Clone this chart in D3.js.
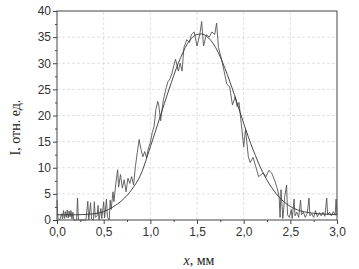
<!DOCTYPE html>
<head>
<meta charset="utf-8">
<title>D3</title>
<style>
  body { margin: 0; background: #fff; }
  .tick text { font-family: "Liberation Sans", Arial, sans-serif; font-size: 12px; fill: #333; }
  .grid line { stroke: #d8d8d8; stroke-dasharray: 3,2; stroke-width: 0.8px; }
  .title { font-family: "Liberation Serif", "Times New Roman", serif; fill: #222; }
</style>
</head>
<body>
<div id="chart"></div>
<script src="https://cdn.jsdelivr.net/npm/d3@7"></script>
<script>

// measured intensity (noisy)
var xs = [0.00,0.01,0.03,0.05,0.06,0.07,0.08,0.09,0.10,0.11,0.12,0.13,0.14,0.15,0.16,0.17,0.18,0.21,0.22,0.23,
  0.31,0.33,0.34,0.36,0.37,0.39,0.40,0.41,0.43,0.44,0.45,0.47,0.48,0.50,0.51,0.53,0.54,0.56,0.57,0.58,
  0.60,0.61,0.63,0.65,0.66,0.68,0.70,0.72,0.74,0.76,0.78,0.80,0.82,0.84,0.86,0.88,0.90,0.92,0.94,0.96,
  0.98,1.00,1.02,1.04,1.06,1.08,1.09,1.11,1.14,1.17,1.19,1.21,1.23,1.27,1.30,1.32,1.34,1.36,1.39,1.42,
  1.44,1.47,1.50,1.53,1.55,1.57,1.60,1.63,1.66,1.69,1.71,1.73,1.76,1.79,1.82,1.85,1.88,1.91,1.93,1.95,
  1.97,2.00,2.02,2.05,2.07,2.10,2.13,2.16,2.21,2.24,2.27,2.30,2.33,2.36,2.38,2.39,2.40,2.42,2.44,2.46,
  2.47,2.49,2.51,2.52,2.54,2.55,2.57,2.59,2.61,2.62,2.64,2.66,2.68,2.70,2.71,2.73,2.75,2.77,2.79,2.81,
  2.83,2.85,2.87,2.89,2.90,2.92,2.94,2.96,2.98,2.99,3.00];
var ys = [3.8,0.3,0,1.2,0.2,1.8,0.3,1.6,0.5,1.9,0.4,1.7,0.6,1.8,0.2,1.5,0,0,4.2,0,
  0,3.6,0,3.3,0.2,0,3.5,0.5,0.8,2.8,0,2.2,0.3,3.5,0.4,4.0,0.6,0,3.8,2.0,
  5.4,3.5,7.0,9.6,6.3,8.7,6.1,7.7,5.4,8.0,7.0,8.3,6.7,10.2,12.9,15.4,13.5,12.1,13.1,11.9,
  13.8,14.8,16.7,17.9,21.2,22.7,22.0,19.0,23.0,25.3,26.5,27.0,28.0,30.8,28.5,30.0,28.5,33.0,34.5,34.0,
  35.5,36.0,33.3,35.5,38.0,33.3,35.5,35.0,36.0,35.5,37.7,33.0,31.0,28.5,26.0,25.5,22.0,23.6,21.7,22.5,
  19.2,14.0,17.3,12.1,11.0,12.0,10.2,8.3,9.0,8.3,9.5,9.0,7.7,6.0,4.4,0.5,5.8,0.3,4.5,6.7,
  1.0,0.5,2.0,0.3,4.0,0.8,1.5,0.5,3.8,1.0,1.5,0.5,1.2,4.2,0.8,1.2,0.5,1.8,0.6,1.4,
  0.8,1.5,0.7,4.2,1.0,1.5,0.8,1.6,1.0,4.0,1.0];

// fitted curve
var fitX = [0.0,0.2,0.4,0.5,0.6,0.7,0.8,0.9,1.0,1.1,1.2,1.3,1.4,1.5,1.55,1.6,1.7,1.8,1.9,2.0,2.1,2.2,2.3,2.4,2.5,2.6,2.7,2.8,2.9,3.0];
var fitY = [1.0,1.0,1.2,1.6,2.5,3.8,5.8,8.8,14.0,19.5,25.0,30.0,33.8,35.5,35.6,35.2,33.0,29.0,24.0,18.5,13.5,9.3,6.2,4.0,2.6,1.8,1.4,1.2,1.1,1.0];

var xTicks = [0, 0.5, 1, 1.5, 2, 2.5, 3];
var yTicks = [0, 5, 10, 15, 20, 25, 30, 35, 40];

var width = 359, height = 269;
var margin = {left: 57, right: 22, top: 11, bottom: 49};

var svg = d3.select("#chart").append("svg")
    .attr("width", width)
    .attr("height", height);

var x = d3.scaleLinear().domain([0, 3]).range([margin.left, width - margin.right]);
var y = d3.scaleLinear().domain([0, 40]).range([height - margin.bottom, margin.top]);

var fmt = function(d) { return d3.format(".1f")(d).replace(".", ","); };

// grid
svg.append("g").attr("class", "grid")
  .selectAll("line").data(xTicks.slice(1, -1)).enter().append("line")
    .attr("x1", d => x(d)).attr("x2", d => x(d))
    .attr("y1", y(0)).attr("y2", y(40));
svg.append("g").attr("class", "grid")
  .selectAll("line").data(yTicks.slice(1, -1)).enter().append("line")
    .attr("y1", d => y(d)).attr("y2", d => y(d))
    .attr("x1", x(0)).attr("x2", x(3));

// minor ticks
svg.append("g")
  .attr("transform", "translate(0," + y(0) + ")")
  .call(d3.axisBottom(x).tickValues(d3.range(0.25, 3, 0.5)).tickSize(2).tickFormat(""))
  .call(g => g.select(".domain").remove())
  .selectAll("line").attr("stroke", "#444");
svg.append("g")
  .attr("transform", "translate(" + x(0) + ",0)")
  .call(d3.axisLeft(y).tickValues(d3.range(2.5, 40, 5)).tickSize(2).tickFormat(""))
  .call(g => g.select(".domain").remove())
  .selectAll("line").attr("stroke", "#444");

// axes
var gx = svg.append("g")
  .attr("transform", "translate(0," + y(0) + ")")
  .call(d3.axisBottom(x).tickValues(xTicks).tickSize(4).tickPadding(3).tickFormat(fmt));
var gy = svg.append("g")
  .attr("transform", "translate(" + x(0) + ",0)")
  .call(d3.axisLeft(y).tickValues(yTicks).tickSize(4).tickPadding(2));
[gx, gy].forEach(function(g) {
  g.select(".domain").remove();
  g.selectAll("line").attr("stroke", "#444");
});

// frame
svg.append("rect")
  .attr("x", x(0)).attr("y", y(40))
  .attr("width", x(3) - x(0)).attr("height", y(0) - y(40))
  .attr("fill", "none").attr("stroke", "#444").attr("stroke-width", 1);

// data
var pts = xs.map(function(d, i) { return [d, ys[i]]; });
svg.append("path")
  .datum(pts)
  .attr("fill", "none")
  .attr("stroke", "#555")
  .attr("stroke-width", 0.9)
  .attr("d", d3.line().x(d => x(d[0])).y(d => y(d[1])));

var fit = fitX.map(function(d, i) { return [d, fitY[i]]; });
svg.append("path")
  .datum(fit)
  .attr("fill", "none")
  .attr("stroke", "#333")
  .attr("stroke-width", 0.9)
  .attr("d", d3.line().curve(d3.curveMonotoneX).x(d => x(d[0])).y(d => y(d[1])));

// titles
var xt = svg.append("text").attr("class", "title")
  .attr("x", (x(0) + x(3)) / 2 + 2).attr("y", 265)
  .attr("text-anchor", "middle").style("font-size", "14px");
xt.append("tspan").style("font-style", "italic").text("x");
xt.append("tspan").text(", мм");

svg.append("text").attr("class", "title")
  .attr("transform", "translate(20," + ((y(0) + y(40)) / 2 + 12) + ") rotate(-90)")
  .attr("text-anchor", "middle").style("font-size", "14px")
  .text("I, отн. ед.");

</script>
</body>
</html>
